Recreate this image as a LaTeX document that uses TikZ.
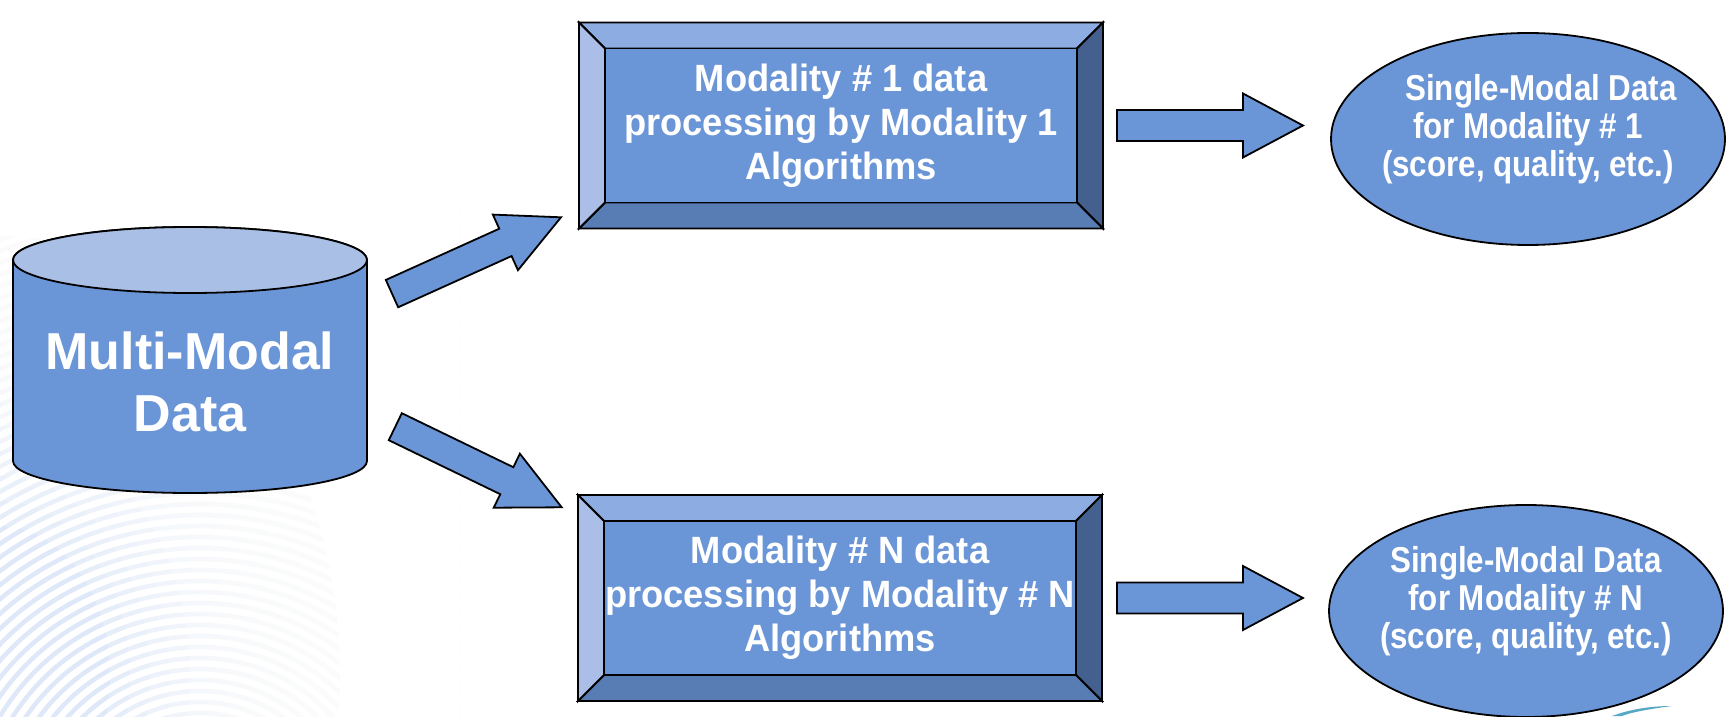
\documentclass[tikz,border=0pt]{standalone}
\usepackage{fontspec}
\setmainfont{Liberation Sans}
\newfontfamily\boxfont[FakeStretch=0.955]{Liberation Sans}
\newfontfamily\ellfont[FakeStretch=0.87]{Liberation Sans}
\usetikzlibrary{calc,shapes.geometric}

\definecolor{faceblue}{RGB}{106,149,214}
\definecolor{capblue}{RGB}{170,191,230}
\definecolor{bevtop}{RGB}{141,173,226}
\definecolor{bevleft}{RGB}{170,190,232}
\definecolor{bevbot}{RGB}{88,124,180}
\definecolor{bevright}{RGB}{67,96,143}
\definecolor{ridge}{RGB}{222,232,248}
\definecolor{logoteal}{RGB}{86,168,196}

% four bevelled faces around a rectangle centred on #1
\newcommand{\bevelframe}[1]{%
  \path[outline, fill=bevtop]   ($(#1)+(-262,103)$) -- ($(#1)+(262,103)$) -- ($(#1)+(236,77)$) -- ($(#1)+(-236,77)$) -- cycle;
  \path[outline, fill=bevright] ($(#1)+(262,103)$) -- ($(#1)+(262,-103)$) -- ($(#1)+(236,-77)$) -- ($(#1)+(236,77)$) -- cycle;
  \path[outline, fill=bevbot]   ($(#1)+(262,-103)$) -- ($(#1)+(-262,-103)$) -- ($(#1)+(-236,-77)$) -- ($(#1)+(236,-77)$) -- cycle;
  \path[outline, fill=bevleft]  ($(#1)+(-262,-103)$) -- ($(#1)+(-262,103)$) -- ($(#1)+(-236,77)$) -- ($(#1)+(-236,-77)$) -- cycle;}

% block arrow: #1 name, #2 tail, #3 tip, #4 shaft half width, #5 head half width, #6 head length
\newcommand{\blockarrow}[6]{%
  \coordinate (#1h) at ($(#3)!#6!(#2)$);
  \path[blockarrow] ($(#2)!#4!90:(#3)$) -- ($(#1h)!#4!90:(#3)$) -- ($(#1h)!#5!90:(#3)$) -- (#3)
    -- ($(#1h)!#5!-90:(#3)$) -- ($(#1h)!#4!-90:(#3)$) -- ($(#2)!#4!-90:(#3)$) -- cycle;}

\begin{document}
\begin{tikzpicture}[x=1pt, y=1pt,
  outline/.style={draw=black, line width=1.8pt, line join=miter},
  blockarrow/.style={outline, fill=faceblue},
  facebox/.style={rectangle, outline, fill=faceblue, minimum width=472pt, minimum height=154pt,
    inner sep=0pt, text=white, align=center, font=\boxfont\bfseries\fontsize{38}{44}\selectfont},
  oval/.style={ellipse, outline, fill=faceblue, minimum width=394pt, minimum height=212pt, inner sep=0pt},
  ovaltext/.style={text=white, align=center, inner sep=0pt, font=\ellfont\bfseries\fontsize{36}{38}\selectfont},
  drumtext/.style={text=white, align=center, inner sep=0pt, font=\bfseries\fontsize{52}{62}\selectfont}]

\useasboundingbox (0,0) rectangle (1729,716);

% faint fingerprint watermark in the lower left corner, veiled towards its rim
\begin{scope}
  \clip (0,0) rectangle (460,560);
  \foreach \r in {90,101,...,680}
    \draw[ridge, line width=4.5pt] (200,-120) circle (\r pt);
  \foreach \k in {0,...,11}
    \fill[white, fill opacity=0.22, even odd rule] (-10,-10) rectangle (470,570)
      (0,40) ellipse [x radius={110+20*\k}, y radius={150+25*\k}];
  \fill[white, even odd rule] (-10,-10) rectangle (470,570)
    (0,40) ellipse [x radius=340, y radius=440];
\end{scope}

% logo swoosh at the lower right edge
\fill[logoteal] (1612,0) .. controls (1628,6) and (1648,10) .. (1672,10)
  .. controls (1650,7) and (1632,4) .. (1622,0) -- cycle;

% data store drum
\path[outline, fill=faceblue] (13,456) -- (13,255)
  arc[start angle=180, end angle=360, x radius=177, y radius=32] -- (367,456)
  arc[start angle=0, end angle=180, x radius=177, y radius=33] -- cycle;
\draw[outline, fill=capblue] (190,456) ellipse [x radius=177, y radius=33];
\node[drumtext] (mmd) at (190,334) {Multi-Modal\\Data};

% processing boxes
\coordinate (c1) at (841,590.5);
\coordinate (c2) at (840,118);
\bevelframe{c1}
\node[facebox] (m1) at (c1) {Modality \# 1 data\\processing by Modality 1\\Algorithms};
\bevelframe{c2}
\node[facebox] (mN) at (c2) {Modality \# N data\\processing by Modality \# N\\Algorithms};

% single-modal outputs
\node[oval] (s1) at (1528,577) {};
\node[ovaltext] (s1text) at ($(s1)+(0,9.5)$) {\hspace*{26pt}Single-Modal Data\\for Modality \# 1\\(score, quality, etc.)};
\node[oval] (sN) at (1526,105) {};
\node[ovaltext] (sNtext) at ($(sN)+(0,10)$) {Single-Modal Data\\for Modality \# N\\(score, quality, etc.)};

% block arrows
\coordinate (d1t) at (392,422.4);
\coordinate (d1h) at (561,498.7);
\coordinate (d2t) at (395.3,289.3);
\coordinate (d2h) at (561.7,208.7);
\blockarrow{up}{d1t}{d1h}{15pt}{30.5pt}{61pt}
\blockarrow{dn}{d2t}{d2h}{15pt}{30pt}{61pt}

\coordinate (r1t) at ($(c1)+(276,0)$);
\coordinate (r1h) at ($(c1)+(462,0)$);
\coordinate (r2t) at ($(c2)+(277,0)$);
\coordinate (r2h) at ($(c2)+(463,0)$);
\blockarrow{ro}{r1t}{r1h}{15.5pt}{32pt}{60pt}
\blockarrow{rt}{r2t}{r2h}{15.5pt}{32pt}{60pt}
\end{tikzpicture}
\end{document}
